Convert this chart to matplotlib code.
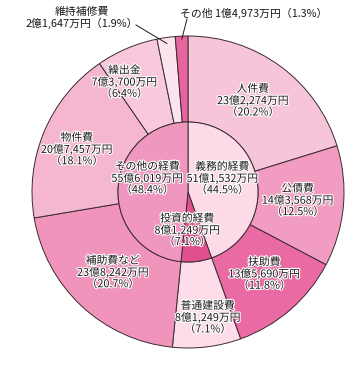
import numpy as np
import matplotlib
matplotlib.use("Agg")
import matplotlib.pyplot as plt
import matplotlib.patheffects as pe

plt.rcParams['font.family'] = ['Noto Sans CJK JP', 'DejaVu Sans']

# ---- data (万円) ----
outer_names = ["人件費", "公債費", "扶助費", "普通建設費", "補助費など", "物件費", "繰出金", "維持補修費", "その他"]
outer_values = [232274, 143568, 135690, 81249, 238242, 207457, 73700, 21647, 14973]
outer_amounts = ["23億2,274万円", "14億3,568万円", "13億5,690万円", "8億1,249万円", "23億8,242万円",
                 "20億7,457万円", "7億3,700万円", "2億1,647万円", "1億4,973万円"]
outer_pcts = ["20.2%", "12.5%", "11.8%", "7.1%", "20.7%", "18.1%", "6.4%", "1.9%", "1.3%"]

inner_names = ["義務的経費", "投資的経費", "その他の経費"]
inner_values = [511532, 81249, 556019]
inner_amounts = ["51億1,532万円", "8億1,249万円", "55億6,019万円"]
inner_pcts = ["44.5%", "7.1%", "48.4%"]

outer_colors = ["#f7c5d9", "#f29cc1", "#ea6aa3", "#fcdde9", "#f094bc", "#f5b6d0", "#f8c9dc", "#fce4ee", "#e8649e"]
inner_colors = ["#fcdae7", "#e0508f", "#f097bf"]

W, H = 357, 366
fig = plt.figure(figsize=(W / 100, H / 100), dpi=100)
ax = fig.add_axes([0, 0, 1, 1])
ax.set_xlim(0, W)
ax.set_ylim(0, H)
ax.set_aspect('equal')
ax.axis('off')

cx, cy = 188, H - 192
R = 156
r_in = 70
edge = dict(edgecolor="#3b2b33", linewidth=0.7)

ow, _ = ax.pie(outer_values, colors=outer_colors, startangle=90, counterclock=False,
               radius=R, center=(cx, cy), wedgeprops=dict(width=R - r_in, **edge))
iw, _ = ax.pie(inner_values, colors=inner_colors, startangle=90, counterclock=False,
               radius=r_in, center=(cx, cy), wedgeprops=dict(**edge))
ax.set_xlim(0, W)
ax.set_ylim(0, H)

fs = 7.8
tc = "#1a1a1a"
halo = [pe.withStroke(linewidth=1.6, foreground="white")]

def place(wedge, rad, dang=0.0):
    th = np.deg2rad((wedge.theta1 + wedge.theta2) / 2 + dang)
    return cx + rad * np.cos(th), cy + rad * np.sin(th)

outer_r = [112, 110, 112, 127, 110, 119, 127]
outer_da = [1, 1, 2, 2, 0, 2, 7]
for i in range(7):
    x, y = place(ow[i], outer_r[i], outer_da[i])
    ax.text(x, y, f"{outer_names[i]}\n{outer_amounts[i]}\n（{outer_pcts[i]}）", ha="center", va="center",
            fontsize=fs, linespacing=1.12, color=tc, path_effects=halo)

# external labels
ax.text(82, H - 18, f"{outer_names[7]}\n{outer_amounts[7]}（{outer_pcts[7]}）", ha="center", va="center",
        fontsize=fs, linespacing=1.12, color=tc)
x7, y7 = place(ow[7], R - 6)
ax.plot([136, x7], [H - 25, y7], color=tc, lw=0.7)
ax.text(180, H - 13, f"{outer_names[8]} {outer_amounts[8]}（{outer_pcts[8]}）", ha="left", va="center",
        fontsize=fs, color=tc)
x8, y8 = place(ow[8], R - 3)
ax.plot([187, x8], [H - 19, y8], color=tc, lw=0.7)

inner_r = [37, 38, 43]
inner_da = [12, -8, -16]
for i in range(3):
    x, y = place(iw[i], inner_r[i], inner_da[i])
    ax.text(x, y, f"{inner_names[i]}\n{inner_amounts[i]}\n（{inner_pcts[i]}）", ha="center", va="center",
            fontsize=fs, linespacing=1.12, color=tc, path_effects=halo)

fig.savefig("out.png", dpi=100)
